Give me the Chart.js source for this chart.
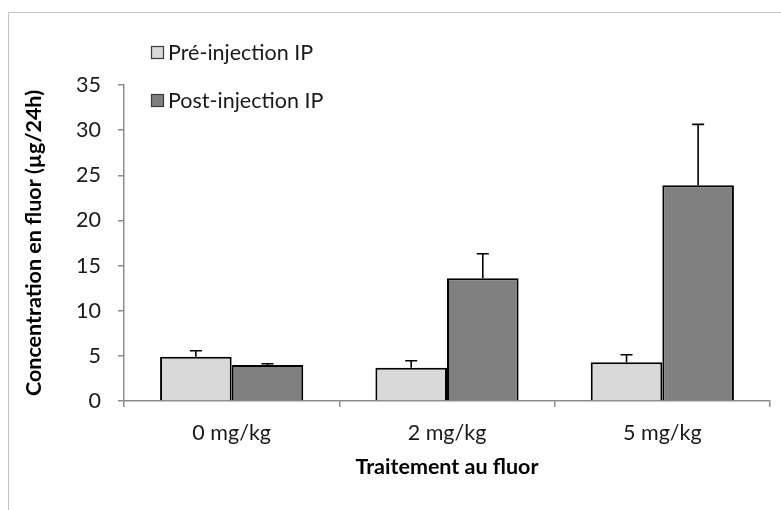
<!DOCTYPE html>
<html>
<head>
<meta charset="utf-8">
<script src="https://cdn.jsdelivr.net/npm/chart.js@4/dist/chart.umd.min.js"></script>
<style>
  html, body { margin: 0; padding: 0; background: #fff; }
  #wrap { position: relative; width: 781px; height: 510px; }
</style>
</head>
<body>
<div id="wrap"><canvas id="graphique" width="781" height="510"></canvas></div>
<script>
// Données : concentration en fluor (µg/24h) par traitement
const traitements = ['0 mg/kg', '2 mg/kg', '5 mg/kg'];
const preInjection = [4.9, 3.69, 4.28];
const postInjection = [3.99, 13.59, 23.89];
// Erreurs (barre vers le haut uniquement)
const erreurPre = [0.67, 0.77, 0.85];
const erreurPost = [0.14, 2.72, 6.75];
const graduations = [0, 5, 10, 15, 20, 25, 30, 35];

const police = 'Lato, "Open Sans", sans-serif';
const taille = 21.5;
const grisAxe = '#8c8c8c';

// Cadre extérieur gris clair (haut et gauche)
const cadre = {
  id: 'cadre',
  beforeDraw(chart) {
    const ctx = chart.ctx;
    ctx.save();
    ctx.strokeStyle = '#c4c4c4';
    ctx.lineWidth = 1;
    ctx.beginPath();
    ctx.moveTo(8.5, 510);
    ctx.lineTo(8.5, 12.5);
    ctx.lineTo(781, 12.5);
    ctx.stroke();
    ctx.restore();
  }
};

// Barres d'erreur au-dessus de chaque barre
const barresErreur = {
  id: 'barresErreur',
  afterDatasetsDraw(chart) {
    const ctx = chart.ctx;
    const y = chart.scales.y;
    ctx.save();
    ctx.strokeStyle = '#000';
    ctx.lineWidth = 1.6;
    chart.data.datasets.forEach((ds, i) => {
      const meta = chart.getDatasetMeta(i);
      meta.data.forEach((bar, j) => {
        const haut = y.getPixelForValue(ds.data[j] + ds.erreurs[j]);
        ctx.beginPath();
        ctx.moveTo(bar.x, bar.y);
        ctx.lineTo(bar.x, haut);
        ctx.moveTo(bar.x - 6, haut);
        ctx.lineTo(bar.x + 6, haut);
        ctx.stroke();
      });
    });
    ctx.restore();
  }
};

// Légende posée dans le coin haut gauche
const legende = {
  id: 'legende',
  afterDraw(chart) {
    const ctx = chart.ctx;
    ctx.save();
    ctx.font = taille + 'px ' + police;
    ctx.textBaseline = 'middle';
    chart.data.datasets.forEach((ds, i) => {
      const cy = 52 + i * 48;
      ctx.fillStyle = ds.backgroundColor;
      ctx.fillRect(151, cy - 6, 13, 13);
      ctx.strokeStyle = '#3a3a3a';
      ctx.lineWidth = 1.2;
      ctx.strokeRect(151.5, cy - 5.5, 12, 12);
      ctx.fillStyle = '#1a1a1a';
      ctx.fillText(ds.label, 168, cy + 1);
    });
    ctx.restore();
  }
};

new Chart(document.getElementById('graphique'), {
  type: 'bar',
  data: {
    labels: traitements,
    datasets: [
      {
        label: 'Pré-injection IP',
        data: preInjection,
        erreurs: erreurPre,
        backgroundColor: '#d9d9d9',
        borderColor: '#000',
        borderWidth: 2
      },
      {
        label: 'Post-injection IP',
        data: postInjection,
        erreurs: erreurPost,
        backgroundColor: '#808080',
        borderColor: '#000',
        borderWidth: 2
      }
    ]
  },
  options: {
    responsive: false,
    animation: false,
    layout: { padding: { top: 85, right: 11, left: 0, bottom: 0 } },
    categoryPercentage: 0.665,
    barPercentage: 1,
    plugins: {
      legend: { display: false },
      tooltip: { enabled: false }
    },
    scales: {
      x: {
        afterFit: s => { s.height = 109; },
        border: { color: grisAxe, width: 1.5 },
        grid: { offset: true, drawOnChartArea: false, color: grisAxe, tickLength: 6, lineWidth: 1.5 },
        ticks: { color: '#1a1a1a', font: { family: police, size: taille }, padding: 13 },
        title: {
          display: true,
          text: 'Traitement au fluor',
          color: '#000',
          font: { family: police, size: taille, weight: 'bold' },
          padding: { top: 0, bottom: 30 }
        }
      },
      y: {
        min: 0,
        max: 35,
        afterFit: s => { s.width = 124; },
        afterBuildTicks: s => { s.ticks = graduations.map(v => ({ value: v })); },
        border: { color: grisAxe, width: 1.5 },
        grid: { drawOnChartArea: false, color: grisAxe, tickLength: 6, lineWidth: 1.5 },
        ticks: { color: '#1a1a1a', font: { family: police, size: taille }, padding: 17 },
        title: {
          display: true,
          text: 'Concentration en fluor (µg/24h)',
          color: '#000',
          font: { family: police, size: taille, weight: 'bold' },
          padding: { top: 21, bottom: 0 }
        }
      }
    }
  },
  plugins: [cadre, barresErreur, legende]
});
</script>
</body>
</html>
